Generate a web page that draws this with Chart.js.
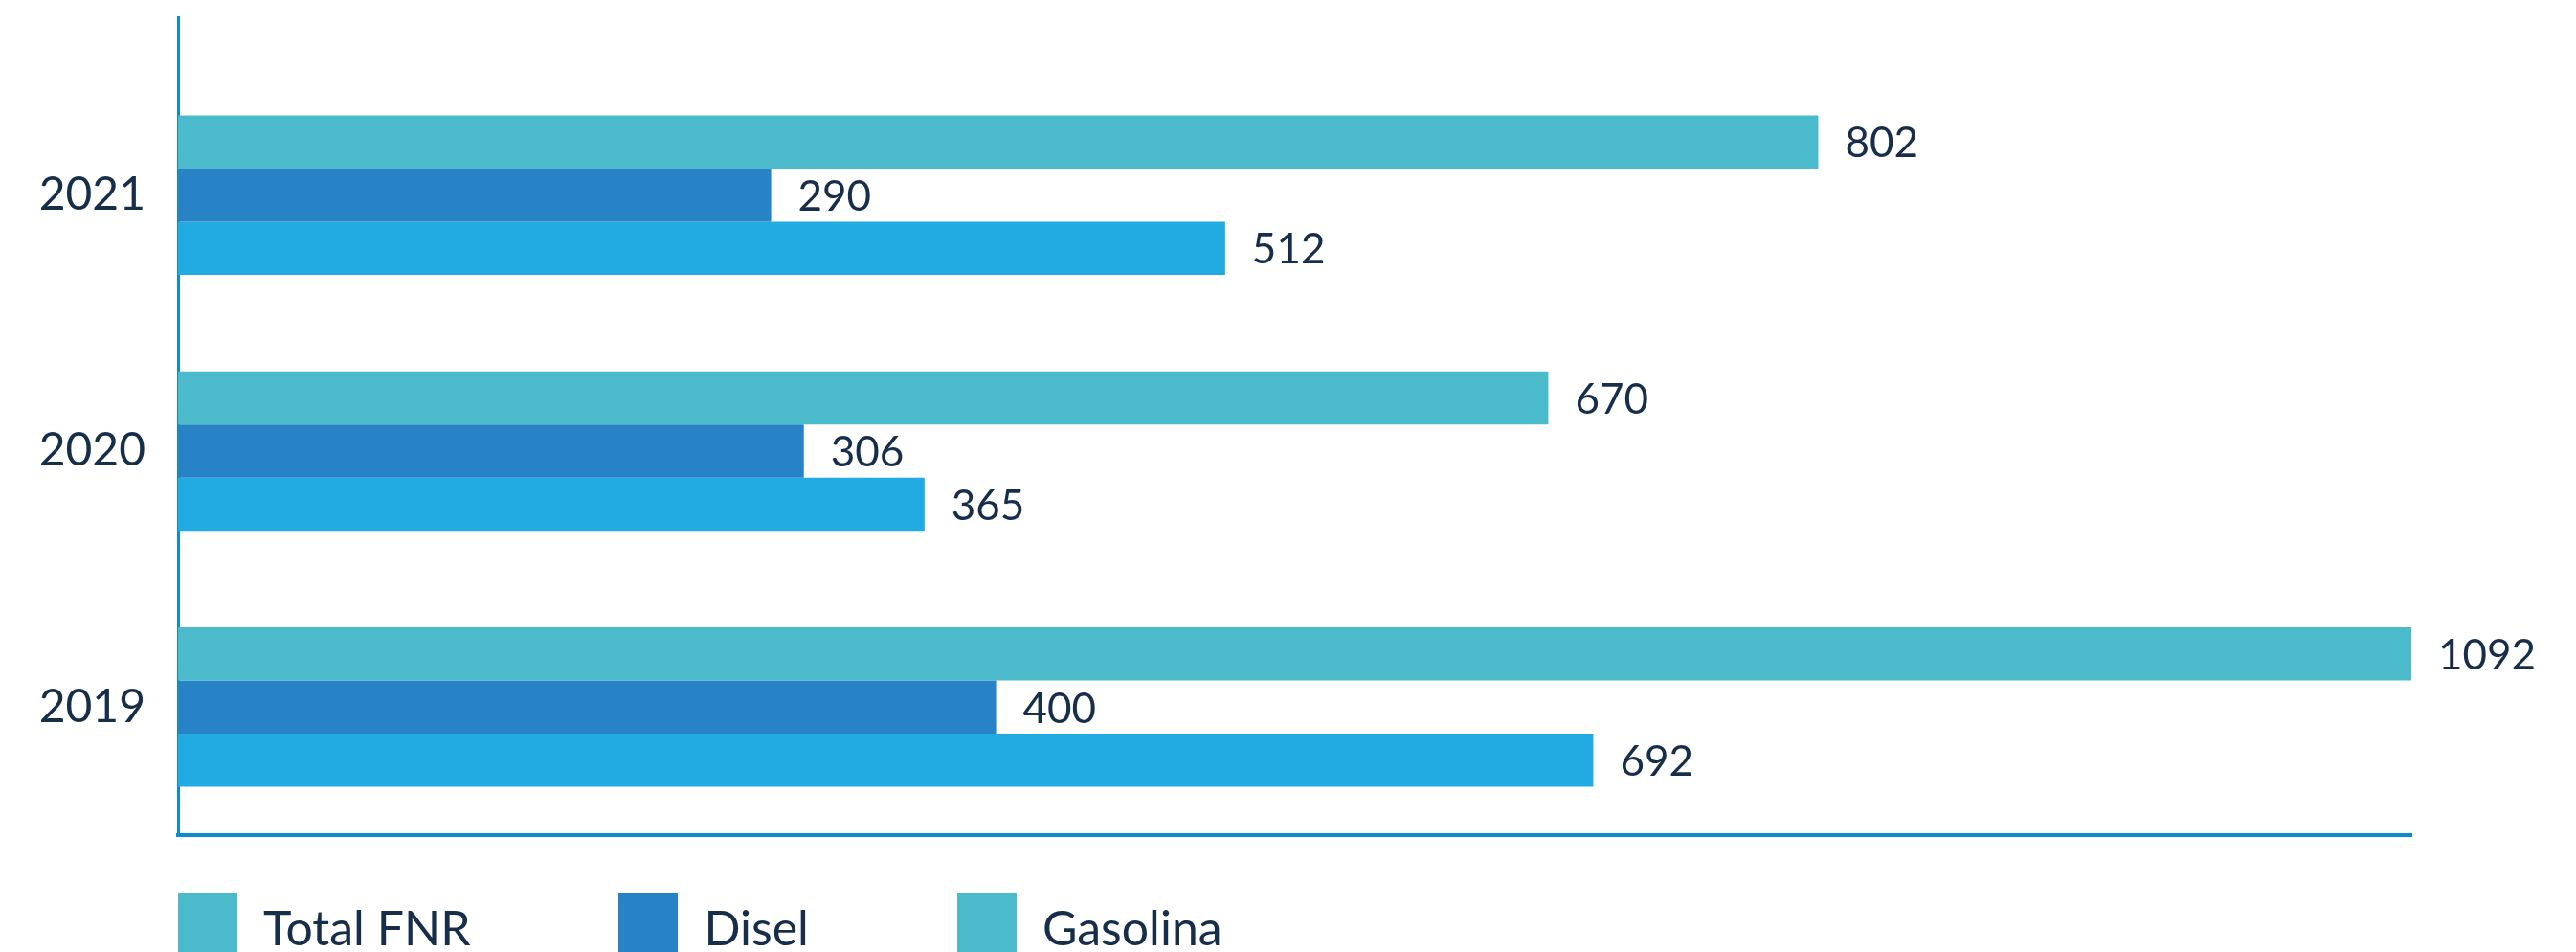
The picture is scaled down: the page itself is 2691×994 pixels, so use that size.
<!DOCTYPE html>
<html>
<head>
<meta charset="utf-8">
<script src="https://cdn.jsdelivr.net/npm/chart.js@4"></script>
<style>
  html, body { margin: 0; padding: 0; background: #fff; }
  #wrap { position: relative; width: 2691px; height: 994px; overflow: hidden; }
  #canvas { display: block; }
  #legend { position: absolute; left: 186px; top: 932px; display: flex; align-items: center;
            font-family: Lato, "Noto Sans", sans-serif; font-size: 50px; color: #172e4a; line-height: 1; }
  .item { display: flex; align-items: center; margin-right: 155px; }
  .box { width: 62px; height: 72px; margin-right: 27px; }
</style>
</head>
<body>
<div id="wrap">
  <canvas id="canvas" width="2691" height="994"></canvas>
  <div id="legend"></div>
</div>
<script>
// years top to bottom
var years = ['2021', '2020', '2019'];
var seriesNames = ['Total FNR', 'Disel', 'Gasolina'];
var totalFnr = [802, 670, 1092];
var disel = [290, 306, 400];
var gasolina = [512, 365, 692];

var barColors = ['#4bbbcb', '#2782c6', '#22abe2'];
var legendColors = ['#4bbbcb', '#2782c6', '#4bbbcb'];
var textColor = '#172e4a';
var axisColor = '#0b8bd1';

// numbers at the end of every bar
var valueLabels = {
    id: 'valueLabels',
    afterDatasetsDraw: function (chart) {
        var ctx = chart.ctx;
        ctx.save();
        ctx.font = '44px Lato, "Noto Sans", sans-serif';
        ctx.fillStyle = textColor;
        ctx.textAlign = 'left';
        ctx.textBaseline = 'middle';
        chart.data.datasets.forEach(function (ds, i) {
            chart.getDatasetMeta(i).data.forEach(function (bar, j) {
                ctx.fillText(ds.data[j], bar.x + 28, bar.y + 2);
            });
        });
        ctx.restore();
    }
};

// the left axis line runs a bit higher than the plot area
var axisTop = {
    id: 'axisTop',
    afterDraw: function (chart) {
        var ctx = chart.ctx;
        var area = chart.chartArea;
        var x = Math.round(area.left - 1.5) + 1.5;
        ctx.save();
        ctx.strokeStyle = axisColor;
        ctx.lineWidth = 3;
        ctx.beginPath();
        ctx.moveTo(x, 17);
        ctx.lineTo(x, area.top + 1);
        ctx.stroke();
        ctx.restore();
    }
};

var values = [totalFnr, disel, gasolina];
var datasets = seriesNames.map(function (name, i) {
    return {
        label: name,
        data: values[i],
        backgroundColor: barColors[i],
        borderWidth: 0,
        barPercentage: 1,
        categoryPercentage: 0.623
    };
});

const ctx = document.getElementById('canvas');
const myChart = new Chart(ctx, {
    type: 'bar',
    data: {
        labels: years,
        datasets: datasets
    },
    options: {
        indexAxis: 'y',
        responsive: false,
        animation: false,
        layout: {
            padding: { top: 70, right: 172, bottom: 122, left: 0 }
        },
        plugins: {
            legend: { display: false },
            tooltip: { enabled: false }
        },
        scales: {
            x: {
                min: 0,
                max: Math.max.apply(null, totalFnr),
                grid: { display: false, drawTicks: false },
                ticks: { display: false },
                border: { display: true, color: axisColor, width: 4 }
            },
            y: {
                grid: { display: false, drawTicks: false },
                border: { display: true, color: axisColor, width: 3 },
                ticks: {
                    padding: 34,
                    color: textColor,
                    font: { family: 'Lato, "Noto Sans", sans-serif', size: 48 }
                },
                afterFit: function (scale) {
                    scale.width = 186;
                }
            }
        }
    },
    plugins: [valueLabels, axisTop]
});

// legend underneath, built from the chart's own datasets
var legend = document.getElementById('legend');
myChart.data.datasets.forEach(function (ds, i) {
    var item = document.createElement('div');
    item.className = 'item';
    var box = document.createElement('div');
    box.className = 'box';
    box.style.background = legendColors[i];
    var label = document.createElement('span');
    label.textContent = ds.label;
    item.appendChild(box);
    item.appendChild(label);
    legend.appendChild(item);
});
</script>
</body>
</html>
